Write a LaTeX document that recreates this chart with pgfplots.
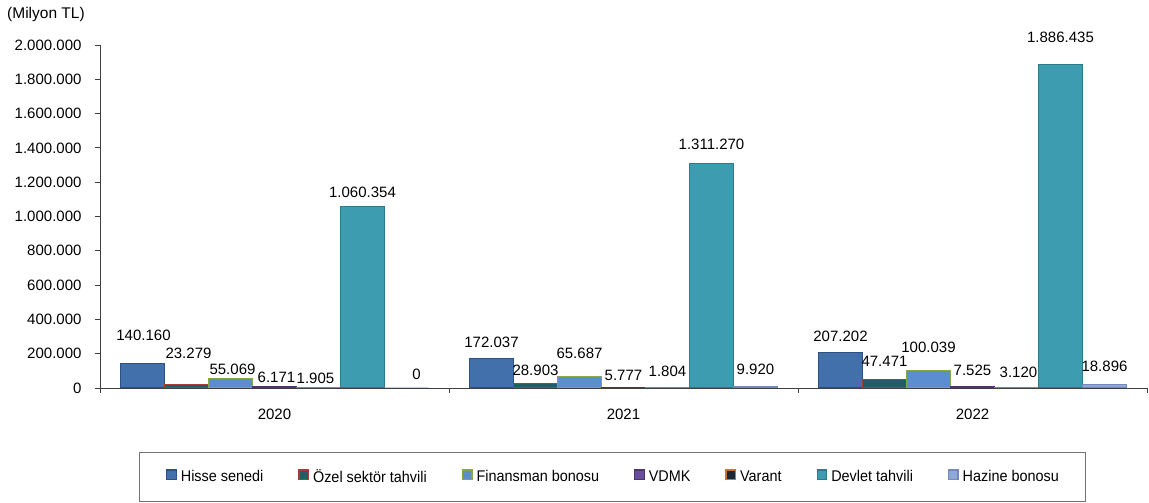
\documentclass[border=0pt]{standalone}
\usepackage{pgfplots}
\usepackage{pgfplotstable}
\pgfplotsset{compat=1.18}
\usepackage{fontspec}
\setmainfont{Liberation Sans}
\newfontfamily\narrowfont{Liberation Sans}[FakeStretch=0.93]

\definecolor{cHisse}{HTML}{4170AA}
\definecolor{cHisseB}{HTML}{2C5283}
\definecolor{cOzel}{HTML}{1F5D6A}
\definecolor{cOzelB}{HTML}{A83A3A}
\definecolor{cFin}{HTML}{5A8ED0}
\definecolor{cFinB}{HTML}{8CA645}
\definecolor{cVdmk}{HTML}{6B4E9A}
\definecolor{cVdmkB}{HTML}{4A3570}
\definecolor{cVar}{HTML}{142840}
\definecolor{cVarB}{HTML}{C87530}
\definecolor{cDev}{HTML}{3E9CB0}
\definecolor{cDevB}{HTML}{2C7A8C}
\definecolor{cHaz}{HTML}{8EA8D8}
\definecolor{cHazB}{HTML}{7489B8}

\pgfplotstableread{
x y off xoff lab
0 140160 23 1 140.160
1 172037 10.5 0 172.037
2 207202 10.5 0 207.202
}\tHisse
\pgfplotstableread{
x y off xoff lab
0 23279 26 2 23.279
1 28903 8 0 28.903
2 47471 13 0 47.471
}\tOzel
\pgfplotstableread{
x y off xoff lab
0 55069 4 2 55.069
1 65687 18.7 0 65.687
2 100039 18.8 0 100.039
}\tFin
\pgfplotstableread{
x y off xoff lab
0 6171 4 2 6.171
1 5777 7 0 5.777
2 7525 11.7 0 7.525
}\tVdmk
\pgfplotstableread{
x y off xoff lab
0 1905 4.6 -3 1.905
1 1804 10.7 0 1.804
2 3120 9.5 2 3.120
}\tVar
\pgfplotstableread{
x y off xoff lab
0 1060354 8.5 0 1.060.354
1 1311270 14 0 1.311.270
2 1886435 22 0 1.886.435
}\tDev
\pgfplotstableread{
x y off xoff lab
0 0 8 10 0
1 9920 11.3 0 9.920
2 18896 12.8 0 18.896
}\tHaz

\pgfplotsset{
  mybar/.style={
    line width=1pt,
    legend image code/.code={\draw[##1,line width=1.2pt] (0pt,-2.5pt) rectangle (9.5pt,7pt);}
  }
}

\begin{document}
\begin{tikzpicture}[font=\fontsize{15}{18}\selectfont]
\path[use as bounding box] (0,0) rectangle (1149pt,503pt);
\node[anchor=base west, inner sep=0pt, font=\fontsize{15.5}{18}\selectfont] at (7pt,484pt) {(Milyon TL)};
\begin{axis}[
  at={(100pt,115pt)}, anchor=south west,
  scale only axis, width=1047pt, height=343pt,
  ybar=0pt, bar width=44pt,
  xmin=-0.5, xmax=2.5, ymin=0, ymax=2000000,
  axis x line*=bottom, axis y line*=left,
  axis line style={-, draw=black!75, line width=0.9pt},
  xtick={0,1,2}, xticklabels={2020,2021,2022},
  major x tick style={draw=none},
  extra x ticks={-0.5,0.5,1.5,2.5}, extra x tick labels={},
  extra x tick style={major tick length=5pt, major x tick style={draw=black!75, line width=0.9pt}},
  ytick={0,200000,...,2000000},
  tick align=outside, major tick length=5pt,
  tick style={draw=black!75, line width=0.9pt},
  scaled y ticks=false,
  /pgf/number format/.cd, fixed, precision=0, 1000 sep={.}, assume math mode=true,
  /pgfplots/.cd,
  yticklabel style={xshift=-10pt},
  xticklabel style={yshift=-12pt},
  point meta=explicit symbolic,
  nodes near coords={\pgfplotspointmeta},
  visualization depends on={\thisrow{off} \as \labeloff},
  visualization depends on={\thisrow{xoff} \as \labelxoff},
  every node near coord/.append style={anchor=base, inner sep=0pt, yshift=\labeloff pt, xshift=\labelxoff pt, text=black},
  legend columns=7,
  legend style={
    at={(0.4895,-0.1866)}, anchor=north,
    draw=black!55, line width=0.8pt,
    inner xsep=27pt, inner ysep=17pt,
    font=\narrowfont\fontsize{15.5}{18}\selectfont,
    nodes={inner sep=0pt},
    /tikz/every odd column/.append style={column sep=4pt},
    /tikz/every even column/.append style={column sep=35pt},
  },
  legend cell align=left,
]
\addplot[mybar, fill=cHisse, draw=cHisseB] table[x=x, y=y, meta=lab] {\tHisse};
\addplot[mybar, fill=cOzel, draw=cOzelB] table[x=x, y=y, meta=lab] {\tOzel};
\addplot[mybar, fill=cFin, draw=cFinB] table[x=x, y=y, meta=lab] {\tFin};
\addplot[mybar, fill=cVdmk, draw=cVdmkB] table[x=x, y=y, meta=lab] {\tVdmk};
\addplot[mybar, fill=cVar, draw=cVarB] table[x=x, y=y, meta=lab] {\tVar};
\addplot[mybar, fill=cDev, draw=cDevB] table[x=x, y=y, meta=lab] {\tDev};
\addplot[mybar, fill=cHaz, draw=cHazB] table[x=x, y=y, meta=lab] {\tHaz};
\legend{Hisse senedi, Özel sektör tahvili, Finansman bonosu, VDMK, Varant, Devlet tahvili, Hazine bonosu}
\end{axis}
\end{tikzpicture}
\end{document}
